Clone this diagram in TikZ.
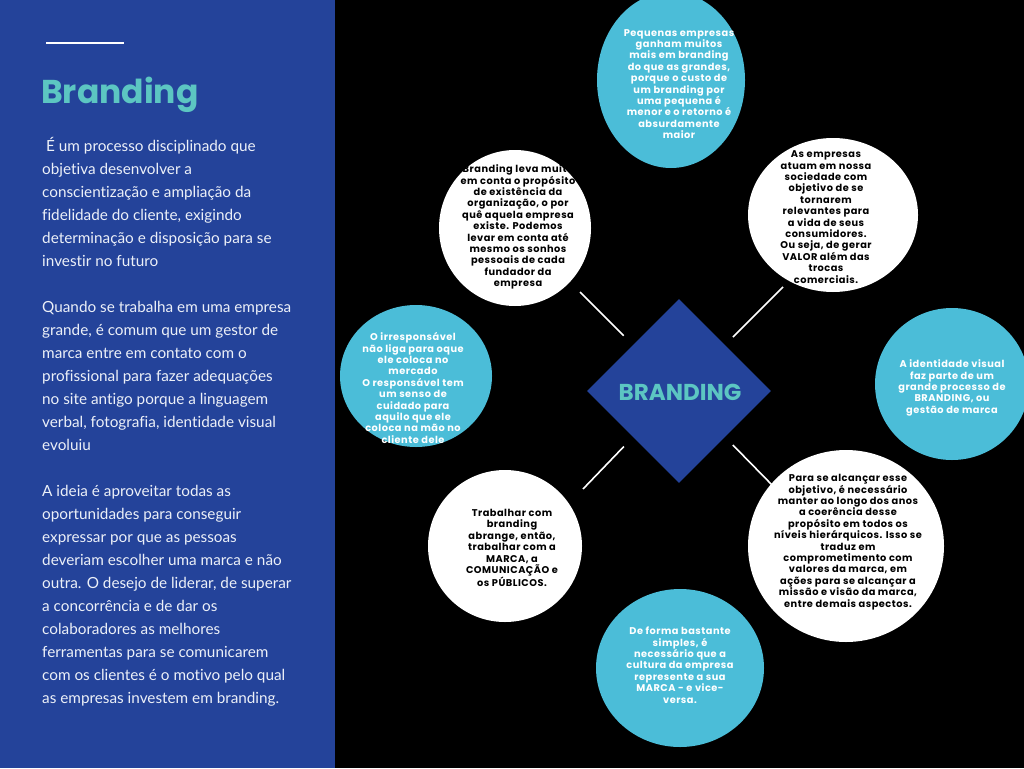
\documentclass[tikz,border=0pt]{standalone}
\usepackage{fontspec}
\setmainfont{Lato}[Ligatures=NoCommon]
\newfontfamily\popc{Poppins}[LetterSpace=5]
\newfontfamily\popt{Poppins}
\usetikzlibrary{shapes.geometric}
\definecolor{panelblue}{RGB}{36,67,154}
\definecolor{teal}{RGB}{92,198,194}
\definecolor{cyanc}{RGB}{75,189,216}
\definecolor{bodytxt}{RGB}{236,240,248}
\tikzset{
  bubble/.style={ellipse, inner sep=0pt, draw=none},
  cyanb/.style={bubble, fill=cyanc},
  whiteb/.style={bubble, fill=white},
  ctext/.style={align=center, inner sep=0pt, font=\popc\bfseries\fontsize{9.8}{11.4}\selectfont},
  wtext/.style={ctext, text=white},
  btext/.style={ctext, text=black},
  conn/.style={draw=white, line width=1.6pt},
}
\begin{document}
\begin{tikzpicture}[x=1pt,y=-1pt]
\useasboundingbox (0,0) rectangle (1024,768);
\fill[black] (0,0) rectangle (1024,768);
\fill[panelblue] (0,0) rectangle (335,768);
% left panel
\draw[white, line width=2.5pt] (46,42.8) -- (124,42.8);
\node[anchor=base west, inner sep=0pt, text=teal, font=\popt\bfseries\fontsize{33}{40}\selectfont] (title) at (41,103) {Branding};
\node[anchor=base west, inner sep=0pt, align=left, text=bodytxt, font=\fontsize{15.3}{23}\selectfont] (body) at (42,703.5) {%
\ É um processo disciplinado que\\
objetiva desenvolver a\\
conscientização e ampliação da\\
fidelidade do cliente, exigindo\\
determinação e disposição para se\\
investir no futuro\\
\mbox{}\\
Quando se trabalha em uma empresa\\
grande, é comum que um gestor de\\
marca entre em contato com o\\
profissional para fazer adequações\\
no site antigo porque a linguagem\\
verbal, fotografia, identidade visual\\
evoluiu\\
\mbox{}\\
A ideia é aproveitar todas as\\
oportunidades para conseguir\\
expressar por que as pessoas\\
deveriam escolher uma marca e não\\
outra. O desejo de liderar, de superar\\
a concorrência e de dar os\\
colaboradores as melhores\\
ferramentas para se comunicarem\\
com os clientes é o motivo pelo qual\\
as empresas investem em branding.};
% diamond
\node[diamond, fill=panelblue, minimum width=184pt, minimum height=184pt, inner sep=0pt, aspect=1] (dia) at (679,391) {};
\node[text=teal, inner sep=0pt, font=\popt\bfseries\fontsize{23}{25}\selectfont] (diat) at (680,392) {BRANDING};
% connector ends
\coordinate (e1) at (580,292);
\coordinate (e2) at (783,287);
\coordinate (e3) at (583,489);
\coordinate (e4) at (774,487);
\draw[conn, shorten <=13pt] (dia.north west) -- (e1);
\draw[conn, shorten <=11pt] (dia.north east) -- (e2);
\draw[conn, shorten <=13pt] (dia.south west) -- (e3);
\draw[conn, shorten <=11pt] (dia.south east) -- (e4);
% bubbles
\node[cyanb, minimum width=148pt, minimum height=176pt] (c1) at (671,80) {};
\node[whiteb, minimum width=152pt, minimum height=156pt] (c2) at (515,228) {};
\node[whiteb, minimum width=170pt, minimum height=154pt] (c3) at (833,215) {};
\node[cyanb, minimum width=152pt, minimum height=142pt] (c4) at (416,376) {};
\node[cyanb, minimum width=154pt, minimum height=152pt] (c5) at (952,384) {};
\node[whiteb, minimum width=154pt, minimum height=152pt] (c6) at (505,546) {};
\node[whiteb, minimum width=196pt, minimum height=192pt] (c7) at (846,546) {};
\node[cyanb, minimum width=168pt, minimum height=158pt] (c8) at (680,668) {};
% bubble texts
\node[wtext] (t1) at (679,84) {Pequenas empresas\\ganham muitos\\mais em branding\\do que as grandes,\\porque o custo de\\um branding por\\uma pequena é\\menor e o retorno é\\absurdamente\\maior};
\node[btext] (t2) at (518,227) {Branding leva muito\\em conta o propósito\\de existência da\\organização, o por\\quê aquela empresa\\existe. Podemos\\levar em conta até\\mesmo os sonhos\\pessoais de cada\\fundador da\\empresa};
\node[btext] (t3) at (826,217) {As empresas\\atuam em nossa\\sociedade com\\objetivo de se\\tornarem\\relevantes para\\a vida de seus\\consumidores.\\Ou seja, de gerar\\VALOR além das\\trocas\\comerciais.};
\node[wtext] (t4) at (413,388) {O irresponsável\\não liga para oque\\ele coloca no\\mercado\\O responsável tem\\um senso de\\cuidado para\\aquilo que ele\\coloca na mão no\\cliente dele};
\node[wtext] (t5) at (952,388) {A identidade visual\\faz parte de um\\grande processo de\\BRANDING, ou\\gestão de marca};
\node[btext] (t6) at (512,548) {Trabalhar com\\branding\\abrange, então,\\trabalhar com a\\MARCA, a\\COMUNICAÇÃO e\\os PÚBLICOS.};
\node[btext] (t7) at (848,542) {Para se alcançar esse\\objetivo, é necessário\\manter ao longo dos anos\\a coerência desse\\propósito em todos os\\níveis hierárquicos. Isso se\\traduz em\\comprometimento com\\valores da marca, em\\ações para se alcançar a\\missão e visão da marca,\\entre demais aspectos.};
\node[wtext] (t8) at (680,665) {De forma bastante\\simples, é\\necessário que a\\cultura da empresa\\represente a sua\\MARCA - e vice-\\versa.};
\end{tikzpicture}
\end{document}
